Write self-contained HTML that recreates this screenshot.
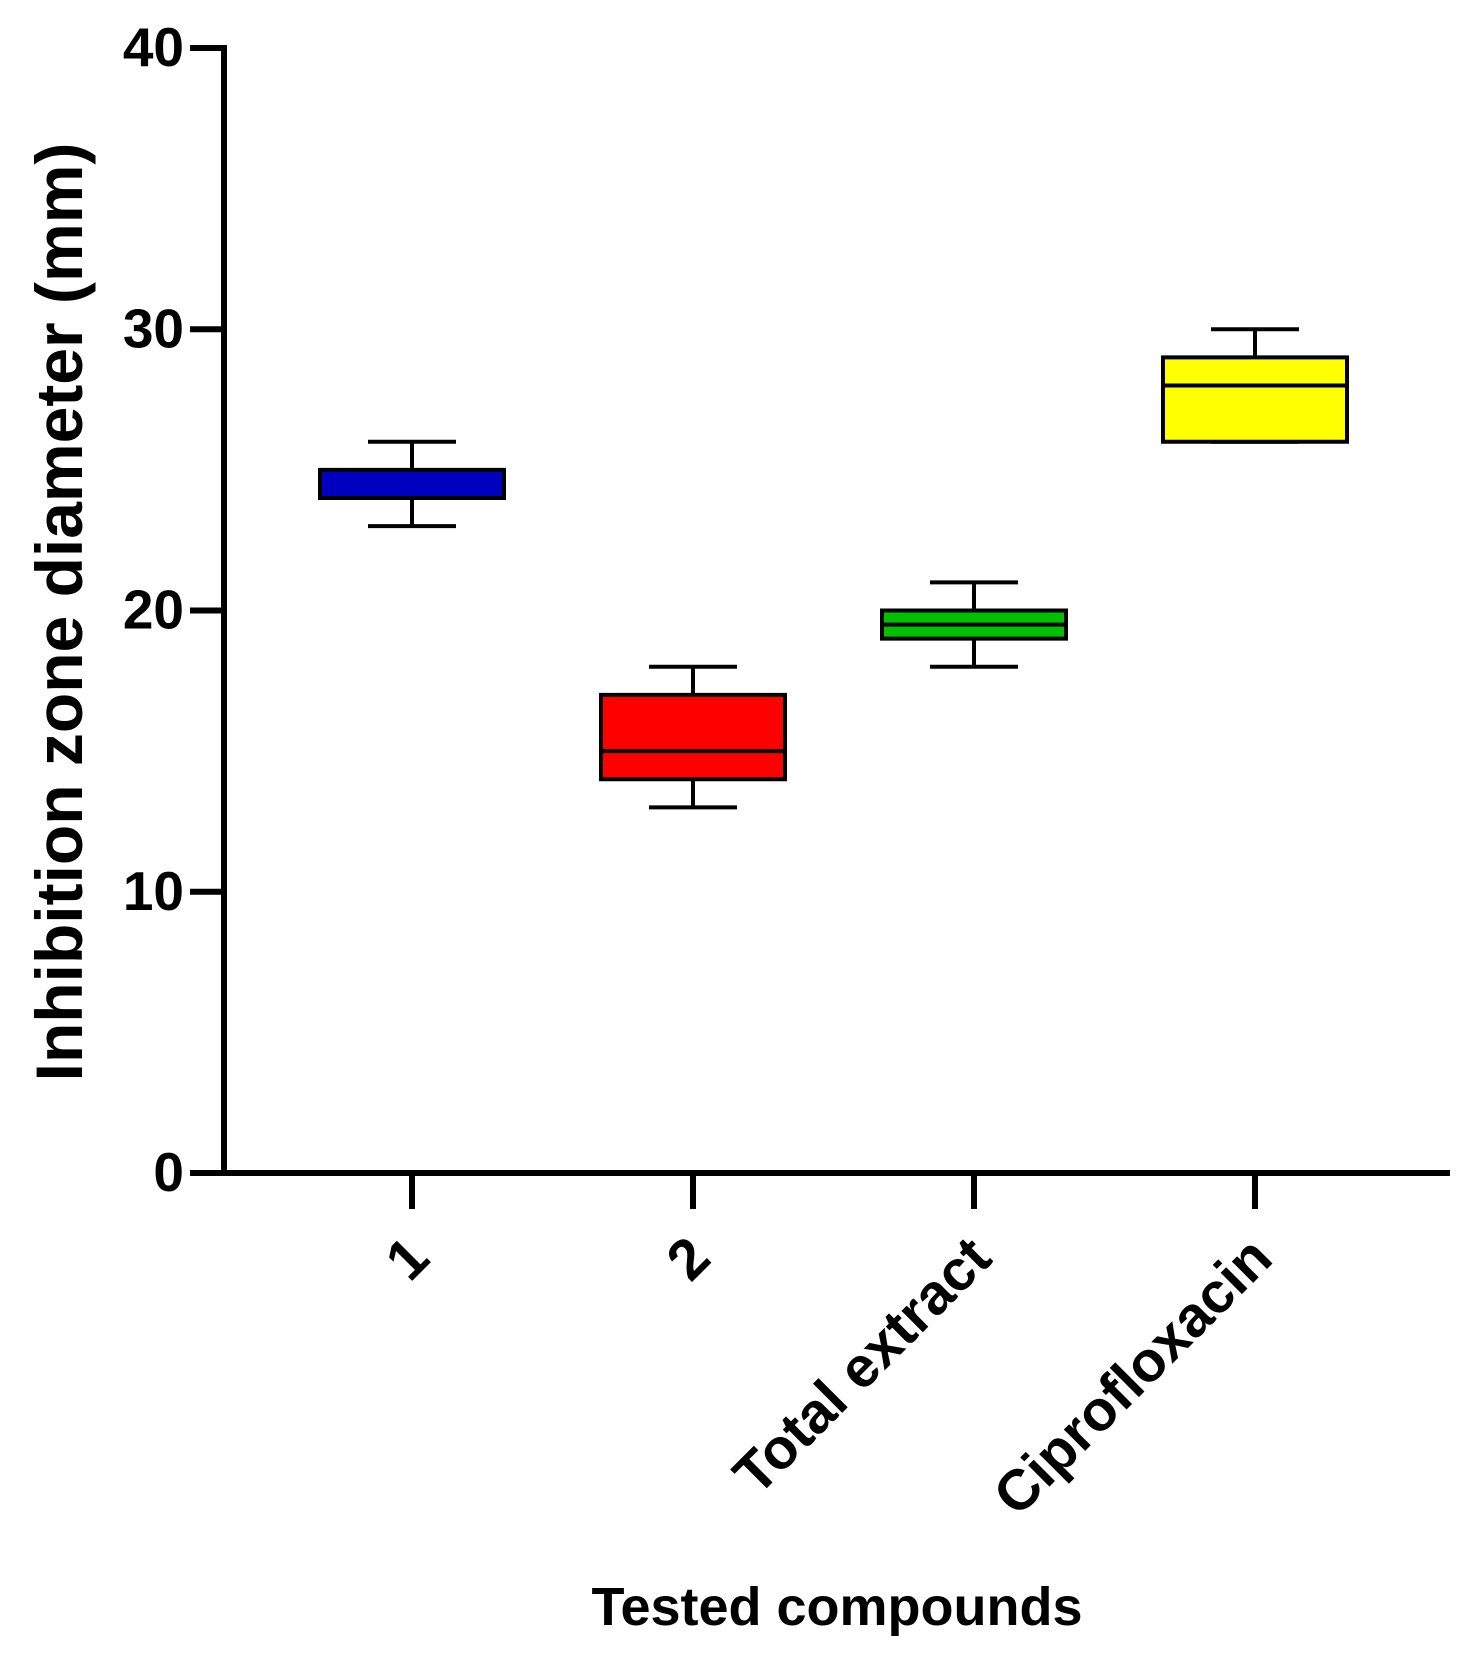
<!DOCTYPE html>
<html><head><meta charset="utf-8"><style>
html,body{margin:0;padding:0;background:#fff;}
svg text{font-family:"Liberation Sans",Arial,sans-serif;font-weight:bold;fill:#000;}
</style></head><body>
<svg id="chart" width="1472" height="1659" viewBox="0 0 1472 1659" xmlns="http://www.w3.org/2000/svg"></svg>
<script>
const categories=["1","2","Total extract","Ciprofloxacin"];
const mins=[23,13,18,26];
const q1s=[24,14,19,26];
const medians=[24,15,19.5,28];
const q3s=[25,17,20,29];
const maxs=[26,18,21,30];
const colors=["#0000c0","#ff0000","#00c000","#ffff00"];
const yTicks=[0,10,20,30,40];

const svg=document.getElementById('chart');
const NS="http://www.w3.org/2000/svg";
const X0=224, Y0=1173, YTOP=48, XEND=1450;
function y(v){return Y0-(v/40)*(Y0-YTOP);}
function x(i){return 412+i*281;}
function mk(tag,attrs,parent){const e=document.createElementNS(NS,tag);for(const k in attrs)e.setAttribute(k,attrs[k]);(parent||svg).appendChild(e);return e;}

let ya=mk('line',{x1:X0,y1:YTOP-3,x2:X0,y2:Y0+3,stroke:'#000','stroke-width':6});


let xa=mk('line',{x1:X0-3,y1:Y0,x2:XEND,y2:Y0,stroke:'#000','stroke-width':6});



yTicks.forEach(v=>{
  let t=mk('line',{x1:X0-34,y1:y(v),x2:X0,y2:y(v),stroke:'#000','stroke-width':6});
  
  
  let l=mk('text',{x:X0-40,y:y(v)+18,'text-anchor':'end','font-size':55});
  l.textContent=v;
  
  
});

categories.forEach((c,i)=>{
  const cx=x(i);
  let t=mk('line',{x1:cx,y1:Y0,x2:cx,y2:Y0+36,stroke:'#000','stroke-width':6});
  
  
  let l=mk('text',{x:0,y:0,'text-anchor':'end','font-size':57,transform:`translate(${cx+20},${Y0+88}) rotate(-45)`});
  l.textContent=c;
  
  

  const g=mk('g',{});
  
  
  const hw=92, cw=44;
  mk('line',{x1:cx,y1:y(maxs[i]),x2:cx,y2:y(q3s[i]),stroke:'#000','stroke-width':4},g);
  mk('line',{x1:cx,y1:y(q1s[i]),x2:cx,y2:y(mins[i]),stroke:'#000','stroke-width':4},g);
  mk('line',{x1:cx-cw,y1:y(maxs[i]),x2:cx+cw,y2:y(maxs[i]),stroke:'#000','stroke-width':4},g);
  mk('line',{x1:cx-cw,y1:y(mins[i]),x2:cx+cw,y2:y(mins[i]),stroke:'#000','stroke-width':4},g);
  mk('rect',{x:cx-hw,y:y(q3s[i]),width:2*hw,height:y(q1s[i])-y(q3s[i]),fill:colors[i],stroke:'#000','stroke-width':4},g);
  mk('line',{x1:cx-hw,y1:y(medians[i]),x2:cx+hw,y2:y(medians[i]),stroke:'#000','stroke-width':4},g);
});

let yt=mk('text',{x:0,y:0,'text-anchor':'middle','font-size':66,transform:`translate(82,612) rotate(-90)`});
yt.textContent='Inhibition zone diameter (mm)';


let xt=mk('text',{x:837,y:1625,'text-anchor':'middle','font-size':54});
xt.textContent='Tested compounds';


</script>
</body></html>
